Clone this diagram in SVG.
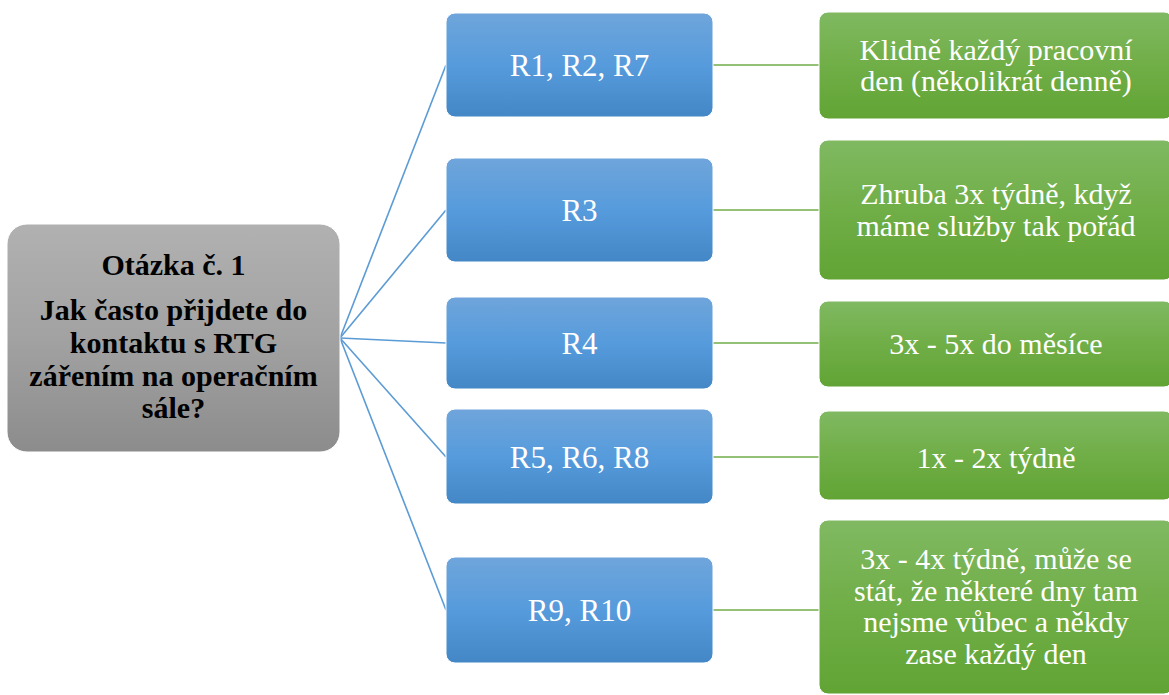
<svg xmlns="http://www.w3.org/2000/svg" width="1169" height="695" viewBox="0 0 1169 695">
  <defs>
    <linearGradient id="gGray" x1="0" y1="0" x2="0" y2="1">
      <stop offset="0" stop-color="#b1b1b1"/>
      <stop offset="0.5" stop-color="#a2a2a2"/>
      <stop offset="1" stop-color="#8c8c8c"/>
    </linearGradient>
    <linearGradient id="gBlue" x1="0" y1="0" x2="0" y2="1">
      <stop offset="0" stop-color="#6fa5db"/>
      <stop offset="0.5" stop-color="#569bdc"/>
      <stop offset="1" stop-color="#4487c6"/>
    </linearGradient>
    <linearGradient id="gGreen" x1="0" y1="0" x2="0" y2="1">
      <stop offset="0" stop-color="#80b962"/>
      <stop offset="0.5" stop-color="#70ae47"/>
      <stop offset="1" stop-color="#61a434"/>
    </linearGradient>
  </defs>
  <style>
    .root { fill: url(#gGray); stroke: #ffffff; stroke-width: 1; }
    .mid { fill: url(#gBlue); stroke: #ffffff; stroke-width: 1; }
    .leaf { fill: url(#gGreen); stroke: #ffffff; stroke-width: 1; }
    .cb { stroke: #5b9bd5; stroke-width: 1.6; fill: none; }
    .cg { stroke: #70ad47; stroke-width: 1.6; fill: none; }
  </style>

  <!-- connectors: blue fan from the question, green links to the answers -->
  <g id="connectors">
    <line class="cb" x1="340" y1="338" x2="446" y2="65"/>
    <line class="cb" x1="340" y1="338" x2="446" y2="210"/>
    <line class="cb" x1="340" y1="338" x2="446" y2="343"/>
    <line class="cb" x1="340" y1="338" x2="446" y2="457"/>
    <line class="cb" x1="340" y1="338" x2="446" y2="610"/>
    <line class="cg" x1="713" y1="65" x2="819" y2="65"/>
    <line class="cg" x1="713" y1="210" x2="819" y2="210"/>
    <line class="cg" x1="713" y1="343" x2="819" y2="343"/>
    <line class="cg" x1="713" y1="457" x2="819" y2="457"/>
    <line class="cg" x1="713" y1="610" x2="819" y2="610"/>
  </g>

  <g id="question">
    <rect class="root" x="7" y="224" width="333" height="228" rx="20"/>
    <text x="173.5" y="275" font-family="Liberation Serif" font-size="30" font-weight="bold" fill="#000000" text-anchor="middle">Otázka č. 1</text>
    <text x="173.5" y="320" font-family="Liberation Serif" font-size="30" font-weight="bold" fill="#000000" text-anchor="middle">Jak často přijdete do</text>
    <text x="173.5" y="353" font-family="Liberation Serif" font-size="30" font-weight="bold" fill="#000000" text-anchor="middle">kontaktu s RTG</text>
    <text x="173.5" y="386" font-family="Liberation Serif" font-size="30" font-weight="bold" fill="#000000" text-anchor="middle">zářením na operačním</text>
    <text x="173.5" y="418" font-family="Liberation Serif" font-size="30" font-weight="bold" fill="#000000" text-anchor="middle">sále?</text>
  </g>

  <g id="r1-r2-r7">
    <rect class="mid" x="446" y="13" width="267" height="104" rx="9"/>
    <text x="579.5" y="76" font-family="Liberation Serif" font-size="31" fill="#ffffff" text-anchor="middle">R1, R2, R7</text>
  </g>
  <g id="r3">
    <rect class="mid" x="446" y="158" width="267" height="104" rx="9"/>
    <text x="579.5" y="221" font-family="Liberation Serif" font-size="31" fill="#ffffff" text-anchor="middle">R3</text>
  </g>
  <g id="r4">
    <rect class="mid" x="446" y="297" width="267" height="92" rx="9"/>
    <text x="579.5" y="354" font-family="Liberation Serif" font-size="31" fill="#ffffff" text-anchor="middle">R4</text>
  </g>
  <g id="r5-r6-r8">
    <rect class="mid" x="446" y="409" width="267" height="95" rx="9"/>
    <text x="579.5" y="468" font-family="Liberation Serif" font-size="31" fill="#ffffff" text-anchor="middle">R5, R6, R8</text>
  </g>
  <g id="r9-r10">
    <rect class="mid" x="446" y="557" width="267" height="106" rx="9"/>
    <text x="579.5" y="621" font-family="Liberation Serif" font-size="31" fill="#ffffff" text-anchor="middle">R9, R10</text>
  </g>

  <g id="a1">
    <rect class="leaf" x="819" y="12" width="354" height="107" rx="9"/>
    <text x="996" y="60" font-family="Liberation Serif" font-size="30" fill="#ffffff" text-anchor="middle">Klidně každý pracovní</text>
    <text x="996" y="91" font-family="Liberation Serif" font-size="30" fill="#ffffff" text-anchor="middle">den (několikrát denně)</text>
  </g>
  <g id="a2">
    <rect class="leaf" x="819" y="140" width="354" height="140" rx="9"/>
    <text x="996" y="204" font-family="Liberation Serif" font-size="30" fill="#ffffff" text-anchor="middle">Zhruba 3x týdně, když</text>
    <text x="996" y="236" font-family="Liberation Serif" font-size="30" fill="#ffffff" text-anchor="middle">máme služby tak pořád</text>
  </g>
  <g id="a3">
    <rect class="leaf" x="819" y="301" width="354" height="86" rx="9"/>
    <text x="996" y="354" font-family="Liberation Serif" font-size="30" fill="#ffffff" text-anchor="middle">3x - 5x do měsíce</text>
  </g>
  <g id="a4">
    <rect class="leaf" x="819" y="411" width="354" height="89" rx="9"/>
    <text x="996" y="468" font-family="Liberation Serif" font-size="30" fill="#ffffff" text-anchor="middle">1x - 2x týdně</text>
  </g>
  <g id="a5">
    <rect class="leaf" x="819" y="520" width="354" height="174" rx="9"/>
    <text x="996" y="569" font-family="Liberation Serif" font-size="30" fill="#ffffff" text-anchor="middle">3x - 4x týdně, může se</text>
    <text x="996" y="601" font-family="Liberation Serif" font-size="30" fill="#ffffff" text-anchor="middle">stát, že některé dny tam</text>
    <text x="996" y="632" font-family="Liberation Serif" font-size="30" fill="#ffffff" text-anchor="middle">nejsme vůbec a někdy</text>
    <text x="996" y="664" font-family="Liberation Serif" font-size="30" fill="#ffffff" text-anchor="middle">zase každý den</text>
  </g>
</svg>
